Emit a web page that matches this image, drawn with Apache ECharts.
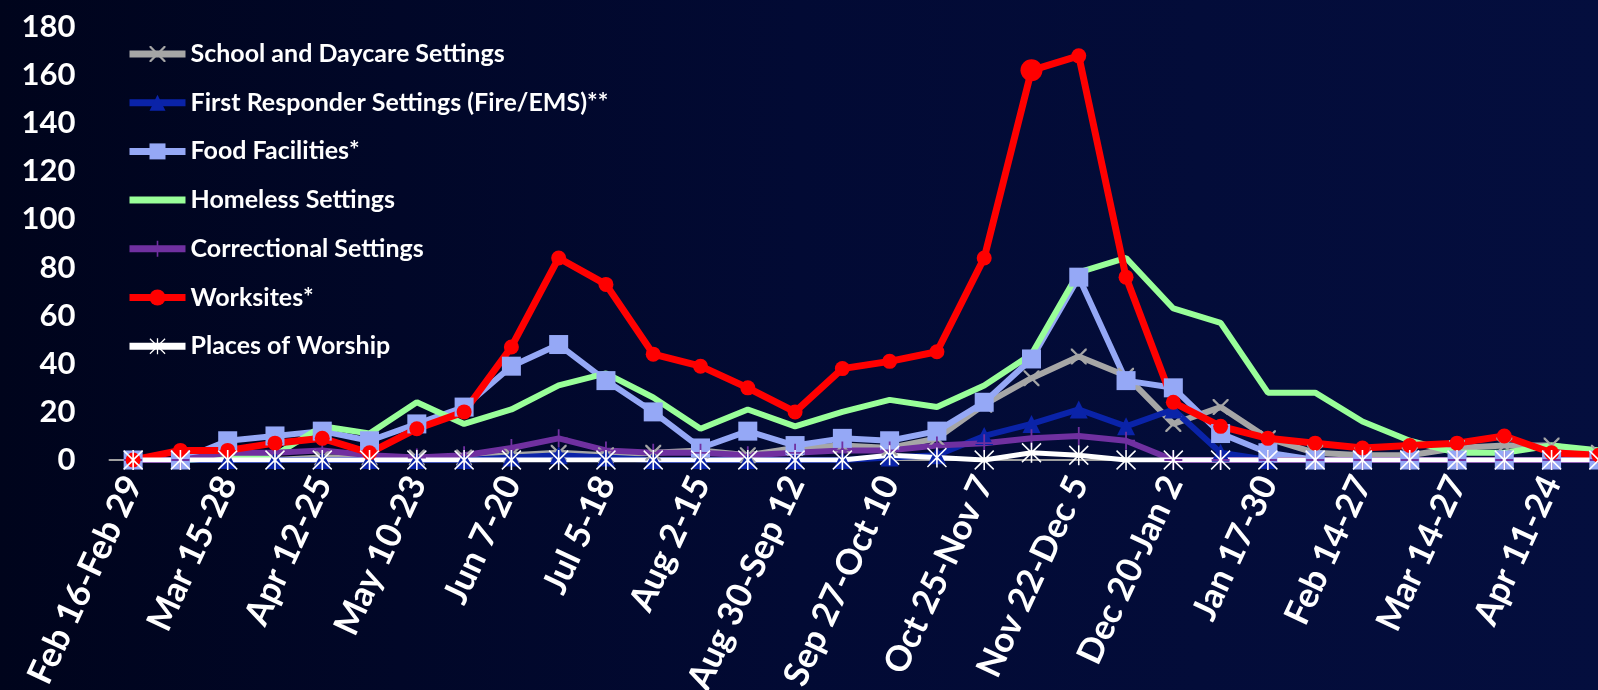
<!DOCTYPE html>
<html>
<head>
<meta charset="utf-8">
<script src="https://cdn.jsdelivr.net/npm/echarts@6/dist/echarts.min.js"></script>
<style>
html,body{margin:0;padding:0;width:1598px;height:690px;overflow:hidden;}
#chart{width:1598px;height:690px;}
</style>
</head>
<body>
<div id="chart"></div>
<script>
const categories = ["Feb 16-Feb 29","Mar 1-14","Mar 15-28","Mar 29-Apr 11","Apr 12-25","Apr 26-May 9","May 10-23","May 24-Jun 6","Jun 7-20","Jun 21-Jul 4","Jul 5-18","Jul 19-Aug 1","Aug 2-15","Aug 16-29","Aug 30-Sep 12","Sep 13-26","Sep 27-Oct 10","Oct 11-24","Oct 25-Nov 7","Nov 8-21","Nov 22-Dec 5","Dec 6-19","Dec 20-Jan 2","Jan 3-16","Jan 17-30","Jan 31-Feb 13","Feb 14-27","Feb 28-Mar 13","Mar 14-27","Mar 28-Apr 10","Apr 11-24","Apr 25-May 8"];
const school       = [0,0,0,0,1,1,1,1,2,3,2,3,4,2,5,6,5,9,23,34,43,35,15,22,9,3,2,2,5,6,6,3];
const firstResp    = [0,0,0,0,0,0,0,0,1,2,1,0,0,0,0,0,1,2,10,15,21,14,21,3,0,0,0,0,0,0,0,0];
const food         = [0,0,8,10,12,8,15,22,39,48,33,20,5,12,6,9,8,12,24,42,76,33,30,11,3,0,0,0,0,0,0,0];
const homeless     = [0,0,1,2,14,11,24,15,21,31,36,26,13,21,14,20,25,22,31,44,78,84,63,57,28,28,16,8,3,3,6,4];
const correctional = [0,0,3,3,4,2,1,2,5,9,4,3,3,2,3,4,4,6,7,9,10,8,0,0,0,0,0,0,0,0,0,0];
const worksites    = [0,4,4,7,9,3,13,20,47,84,73,44,39,30,20,38,41,45,84,162,168,76,24,14,9,7,5,6,7,10,3,2];
const worship      = [0,0,0,0,0,0,0,0,0,0,0,0,0,0,0,0,2,1,0,3,2,0,0,0,0,0,0,0,0,0,0,0];
const yTicks = [0,20,40,60,80,100,120,140,160,180];

const X_SYM = 'path://M0,0 L2,0 L10,8 L18,0 L20,0 L20,2 L12,10 L20,18 L20,20 L18,20 L10,12 L2,20 L0,20 L0,18 L8,10 L0,2 Z';
const PLUS_SYM = 'path://M9,0 L11,0 L11,9 L20,9 L20,11 L11,11 L11,20 L9,20 L9,11 L0,11 L0,9 L9,9 Z';
const STAR_SYM = 'path://M9.2,0 L10.8,0 L10.8,20 L9.2,20 Z M1,0 L10,8.8 L19,0 L20,1.2 L11.2,10 L20,18.8 L19,20 L10,11.2 L1,20 L0,18.8 L8.8,10 L0,1.2 Z';

const font = 'Lato, "Open Sans", sans-serif';
function mk(name, data, color, symbol, size, width, extra) {
  return Object.assign({
    name, type:'line', data, symbol, symbolSize:size, showSymbol: symbol!=='none',
    lineStyle:{color, width}, itemStyle:{color, borderWidth:0},
    emphasis:{disabled:true}, z:2
  }, extra||{});
}
const chart = echarts.init(document.getElementById('chart'));
chart.setOption({
  animation:false,
  backgroundColor:{type:'linear',x:0,y:0,x2:1,y2:0,colorStops:[{offset:0,color:'#00041c'},{offset:0.5,color:'#020a34'},{offset:1,color:'#040e3e'}]},
  grid:{left:109.5,right:-24.5,top:27,bottom:230,containLabel:false,outerBoundsMode:'none'},
  legend:{
    orient:'vertical',left:126,top:41,padding:0,itemWidth:56,itemHeight:20,itemGap:22.7,
    lineStyle:{width:7},
    textStyle:{color:'#ffffff',fontFamily:font,fontWeight:'bold',fontSize:25,lineHeight:26},
    data:['School and Daycare Settings','First Responder Settings (Fire/EMS)**','Food Facilities*',
      {name:'Homeless Settings',itemStyle:{opacity:0}},'Correctional Settings','Worksites*','Places of Worship']
  },
  xAxis:{
    type:'category',data:categories,boundaryGap:true,
    axisLine:{show:true,lineStyle:{color:'#a0a0a0',width:2}},
    axisTick:{show:false},
    axisLabel:{interval:1,rotate:65,color:'#ffffff',fontFamily:font,fontWeight:'bold',fontSize:35,margin:18}
  },
  yAxis:{
    type:'value',min:0,max:180,interval:20,
    axisLine:{show:false},axisTick:{show:false},splitLine:{show:false},
    axisLabel:{color:'#ffffff',fontFamily:font,fontWeight:'bold',fontSize:31,margin:34,
      formatter:v=>yTicks.includes(v)?String(v):''}
  },
  series:[
    mk('School and Daycare Settings',school,'#a6a6a6',X_SYM,16,6),
    mk('First Responder Settings (Fire/EMS)**',firstResp,'#0a23a8','triangle',18,6),
    mk('Food Facilities*',food,'#95a8f6','rect',19,6),
    mk('Homeless Settings',homeless,'#99ff99','none',0,6),
    mk('Correctional Settings',correctional,'#7030a0',PLUS_SYM,18,6),
    mk('Worksites*',worksites,'#ff0000','circle',14,7,{symbolSize:(v,p)=>p.dataIndex===19?22:15}),
    mk('Places of Worship',worship,'#ffffff',STAR_SYM,20,5)
  ]
});
</script>
</body>
</html>
